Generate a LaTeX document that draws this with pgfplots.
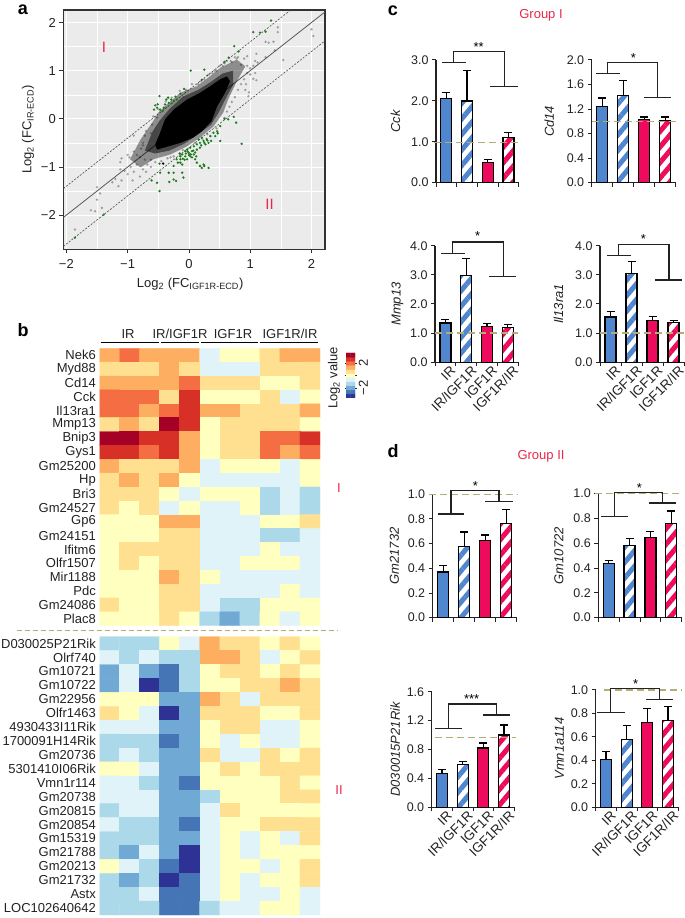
\documentclass[border=0pt]{standalone}
\usepackage{fontspec}
\setmainfont{Liberation Sans}
\usepackage{pgfplots}
\pgfplotsset{compat=1.18}
\usetikzlibrary{patterns.meta}

\definecolor{irblue}{HTML}{4F86CE}
\definecolor{igfred}{HTML}{EE0A5C}
\definecolor{tan}{HTML}{B5AD78}
\definecolor{grpred}{HTML}{E8274B}
\definecolor{dgreen}{HTML}{1C7A1C}
\definecolor{ink}{HTML}{222222}

\newcommand\fs[1]{\fontsize{#1}{#1}\selectfont}

\pgfplotsset{
  colormap={hm}{rgb255=(45,50,148) rgb255=(69,117,180) rgb255=(112,170,212) rgb255=(171,217,233)
    rgb255=(224,243,248) rgb255=(255,255,191) rgb255=(254,224,144) rgb255=(253,174,97)
    rgb255=(244,109,67) rgb255=(215,48,39) rgb255=(165,0,38)},
  % placed by left and bottom, counted in reference pixels from the top left
  pos/.style n args={2}{at={(#1pt,{(918-#2)*1pt})}, anchor=south west, scale only axis},
  % #1 left, #2 bottom, #3 width, #4 height
  barax/.style n args={4}{
    pos={#1}{#2}, width=#3pt, height=#4pt,
    clip=false, xmin=-0.5, xmax=3.5, ymin=0,
    axis x line*=bottom, axis y line*=left,
    axis line style={-,line width=1.2pt,ink},
    tick align=outside, major tick length=4pt, minor tick length=4pt,
    tick style={line width=1pt,ink},
    xtick={0,1,2,3}, minor xtick={-0.5,0.5,1.5,2.5,3.5},
    major x tick style={draw=none},
    xticklabels={},
    tick label style={font=\fs{12.5},text=ink},
    ylabel style={font=\fs{13}\itshape,text=ink},
    yticklabel style={/pgf/number format/fixed,/pgf/number format/fixed zerofill,
      /pgf/number format/precision=1,/pgf/number format/assume math mode=true},
  },
  named/.style={
    xticklabels={IR,IR/IGF1R,IGF1R,IGF1R/IR},
    xticklabel style={font=\fs{13.5},rotate=45,anchor=north east,xshift=5pt,yshift=-1pt,inner sep=1pt},
  },
  hmax/.style={
    enlargelimits=false,
    xmin=-0.5, xmax=10.5, ymin=-0.5, ymax=19.5, y dir=reverse,
    axis line style={draw=none}, tick style={draw=none}, xtick=\empty, ytick={0,...,19},
    yticklabel style={font=\fs{13},text=ink,inner sep=3.5pt},
    colormap name=hm, point meta min=0, point meta max=10,
  },
  hmplot/.style={matrix plot*, mesh/cols=11, point meta=explicit},
  barbase/.style={ybar, bar width=11pt, bar shift=0pt, draw=black, line width=1.3pt,
    error bars/y dir=plus, error bars/y explicit,
    error bars/error bar style={black,line width=1.2pt,solid},
    error bars/error mark options={rotate=90,mark size=4pt,line width=1.2pt,black,solid}},
  dotty/.style={only marks,mark=*,mark size=1.3pt,mark options={draw opacity=0,fill=#1}},
  grayish/.style={only marks,mark=*,mark size=1.3pt,mark options={draw opacity=0,fill=black,fill opacity=.33}},
}

\newcommand\bars[8]{
  \addplot[barbase,fill=irblue] coordinates {(0,#1) +- (0,#2)};
  \addplot[barbase,pattern={Lines[angle=50,distance=10pt,line width=5pt]},pattern color=irblue] coordinates {(1,#3) +- (0,#4)};
  \addplot[barbase,fill=igfred] coordinates {(2,#5) +- (0,#6)};
  \addplot[barbase,pattern={Lines[angle=50,distance=10pt,line width=5pt]},pattern color=igfred] coordinates {(3,#7) +- (0,#8)};
}
% reference dashed line at y=#1 from x=#2 to x=#3
\newcommand\refline[3]{\addplot[tan,line width=1.3pt,dash pattern=on 7pt off 4pt] coordinates {(#2,#1) (#3,#1)};}
% bracket: top y, left x, right x, left bar x0 x1, left bar y, right bar x0 x1, right bar y
\newcommand\bracket[9]{
  \draw[ink,line width=1.1pt] (#4,#6) -- (#5,#6) (#2,#6) -- (#2,#1) -- (#3,#1) -- (#3,#9);
  \draw[ink,line width=1.1pt] (#7,#9) -- (#8,#9);
}

\begin{document}
\begin{tikzpicture}
\useasboundingbox (0,0) rectangle (685pt,918pt);

% ---- a
\begin{axis}[
  pos={63.3}{249.3}, width=261.7pt, height=239.3pt,
  xmin=-2.05, xmax=2.22, ymin=-2.71, ymax=2.26, clip=true,
  axis background/.style={fill=black!8},
  axis line style={line width=1.1pt,black!80},
  xtick={-2,-1,0,1,2}, ytick={-2,-1,0,1,2},
  xticklabels={−2,−1,0,1,2}, yticklabels={−2,−1,0,1,2},
  tick label style={font=\fs{13},text=ink},
  xticklabel style={yshift=-3pt},
  tick align=outside, major tick length=4pt, tick style={line width=.8pt,black!80},
  xtick pos=lower, ytick pos=left,
  minor tick num=1, minor tick length=0pt,
  grid=both, major grid style={white,line width=.7pt}, minor grid style={white,line width=.35pt},
  xlabel={Log\textsubscript{2} (FC\textsubscript{IGF1R-ECD})},
  ylabel={Log\textsubscript{2} (FC\textsubscript{IR-ECD})},
  label style={font=\fs{13},text=ink},
  xlabel style={xshift=-4pt,yshift=-2pt},
]
% lines
\addplot[black!65,line width=.8pt] coordinates {(-2.05,-2.05)(2.22,2.22)};
\addplot[black!70,line width=.6pt,dash pattern=on 2pt off 1.5pt] coordinates {(-2.05,-1.45)(1.66,2.26)};
\addplot[black!70,line width=.6pt,dash pattern=on 2pt off 1.5pt] coordinates {(-2.05,-2.65)(2.22,1.62)};
% fringe of the cloud
\addplot[draw=none,fill=black,fill opacity=.4] coordinates {
 (-.96,-.84)(-.79,-.43)(-.60,-.08)(-.50,.13)(-.36,.30)(-.14,.54)(.13,.68)(.32,.86)(.51,1.06)(.78,1.23)
 (.92,1.09)(.78,.78)(.64,.40)(.56,.13)(.40,-.16)(.18,-.39)(-.03,-.57)(-.30,-.74)(-.58,-.84)(-.79,-1.01)} --cycle;
\addplot[draw=none,fill=black,fill opacity=.5] coordinates {
 (-.72,-.66)(-.60,-.28)(-.48,-.04)(-.32,.20)(-.10,.46)(.15,.60)(.35,.76)(.55,.94)(.72,1.0)(.72,.70)
 (.60,.42)(.48,.12)(.36,-.12)(.15,-.32)(-.08,-.52)(-.32,-.66)(-.55,-.72)} --cycle;
% dense core
\addplot[draw=none,fill=black] coordinates {
 (-.55,-.53)(-.47,-.29)(-.39,-.01)(-.25,.19)(-.03,.40)(.18,.54)(.35,.68)(.51,.82)(.62,.88)(.67,.78)
 (.59,.54)(.46,.26)(.37,-.05)(.21,-.26)(.07,-.39)(-.14,-.50)(-.36,-.58)(-.52,-.64)} --cycle;
% gray points
\addplot[grayish] coordinates {
 (2.0,1.86)(2.03,1.72)(1.54,1.22)(1.45,1.9)(1.45,1.8)(1.25,1.6)(1.3,1.58)(1.38,1.6)(1.4,1.42)
 (1.25,1.28)(1.1,1.35)(1.08,1.2)(.95,1.3)(1.0,1.05)(.9,1.25)(.85,1.12)(.95,1.1)(1.05,1.1)(1.12,1.17)
 (.78,1.25)(1.08,.95)(1.0,.92)(1.1,.8)(1.05,.83)(.93,.72)(.92,.6)(.98,.55)(.97,.47)
 (-1.86,-2.3)(-1.5,-1.42)(-1.45,-1.55)(-1.5,-1.68)(-1.6,-1.9)(-1.53,-1.92)(-1.42,-1.85)(-1.25,-1.32)
 (-1.2,-1.25)(-1.15,-1.4)(-1.1,-1.28)(-1.0,-1.15)(-1.05,-1.08)(-1.12,-1.05)(-.9,-1.1)(-.85,-.95)
 (-.95,-1.0)(-.75,-1.05)(-.8,-1.2)(-.7,-1.1)(-.68,-.95)(-.62,-.85)(-.72,-.85)(-.62,-1.0)(-1.1,-.82)
 (-1.12,-.9)(-1.0,-.75)(-.9,-.68)(-.97,-.8)(-.85,-.75)(-.78,-.62)(-.8,-.8)(-.92,-1.28)(-.75,-.55)
 (-.9,-.35)(-.72,-.35)(-.6,-.12)(-.62,-.3)(-.52,.02)(.05,.72)(.2,.78)(.3,.9)(.38,.95)(.45,1.0)(.55,1.1)
 (.7,1.18)(.8,1.28)(.62,1.2)(.58,.02)(.62,.15)(.66,.25)(.7,.35)(.75,.45)(.8,.6)(.85,.72)(.9,.82)(.95,.95)
 (.45,-.2)(.3,-.32)(.22,-.42)(.1,-.5)(-.1,-.65)(-.3,-.8)(-.45,-.88)(-.55,-.9)
 (-.35,-.82)(-.25,-.78)(-.75,-.5)(-.7,-.25)(-.58,.05)(-.5,.2)(-.38,.36)(-.28,.44)(-.15,.58)(-.05,.6)
 (.15,.72)(.25,.82)(.33,.92)(.42,1.0)(.5,1.1)(.58,1.15)(.68,1.2)(.75,1.28)};
% green points
\addplot[dotty=dgreen] coordinates {
 (1.34,2.04)(1.05,1.80)(1.16,1.79)(1.25,1.81)(.74,1.51)(.81,1.40)(.65,1.27)(.58,1.18)(.03,1.0)(.25,1.02)(.21,.81)
 (-.08,.62)(-.14,.52)(-.22,.46)(-.48,.47)(-.34,.44)(-.29,.40)(-.2,.4)(-.25,.37)(-.33,.33)(-.39,.30)(-.55,.28)
 (-.52,.23)(-.47,.19)(-.41,.23)(-.57,.19)(-.51,.30)(-.43,.16)(-.37,.40)(-.28,.32)
 (.86,-.52)(.77,-.08)(.73,.04)(.58,0)(.64,-.01)(.51,-.15)(.47,-.30)(.51,-.46)(.36,-.46)(.40,-.29)(.35,-.36)
 (.29,-.42)(.24,-.46)(.18,-.50)(.13,-.53)(.08,-.57)(.02,-.60)(-.03,-.64)(.05,-.67)(0,-.71)(-.11,-.74)(-.06,-.78)
 (-.14,-.78)(.13,-.64)(.18,-.6)(.27,-.53)(.32,-.5)(.08,-.74)(.1,-.84)(.13,-.91)(.24,-.95)(.21,-1.02)(.25,-.98)
 (.32,-1.02)(-.18,-.91)(-.14,-.91)(-.2,-.84)(-.11,-.95)(-.25,-.98)(-.33,-1.12)(-.25,-1.12)(-.47,-1.12)(-.48,-.93)
 (-.61,-1.28)(-.52,-1.33)(-.48,-1.5)(-.32,-1.31)(-.21,-1.29)(-.25,-1.26)(-.11,-1.12)(-.09,-1.22)(-1.39,-1.99)(-1.86,-2.47)
 (-.06,-.67)(-.1,-.83)(.02,-.78)(-.03,-.84)(-.14,-.84)(.16,-.43)(.21,-.39)(.46,-.26)(.43,-.36)(.18,-.98)
 (0,-.75)(.05,-.8)(-.02,-.68)(.1,-.7)(.03,-.74)(-.05,-.72)(.12,-.78)(.07,-.66)(.2,-.55)(.25,-.5)(.3,-.45)(-.07,-.85)(-.15,-.72)};
\addplot[dotty=black] coordinates {(-.42,-.93)};
\end{axis}

% ---- b
\begin{axis}[hmax, pos={99.5}{625.7}, width=220.5pt, height=277.4pt,
  yticklabels={Nek6,Myd88,Cd14,Cck,Il13ra1,Mmp13,Bnip3,Gys1,Gm25200,Hp,Bri3,Gm24527,Gp6,Gm24151,Ifitm6,Olfr1507,Mir1188,Pdc,Gm24086,Plac8}]
\addplot[hmplot] coordinates {
(0,0)[7](1,0)[8](2,0)[7](3,0)[7](4,0)[7](5,0)[4](6,0)[5](7,0)[5](8,0)[6](9,0)[7](10,0)[7]
(0,1)[6](1,1)[6](2,1)[6](3,1)[7](4,1)[6](5,1)[4](6,1)[4](7,1)[4](8,1)[6](9,1)[6](10,1)[6]
(0,2)[7](1,2)[7](2,2)[7](3,2)[7](4,2)[8](5,2)[6](6,2)[6](7,2)[6](8,2)[5](9,2)[5](10,2)[6]
(0,3)[8](1,3)[8](2,3)[8](3,3)[6](4,3)[9](5,3)[5](6,3)[5](7,3)[5](8,3)[6](9,3)[4](10,3)[5]
(0,4)[8](1,4)[8](2,4)[7](3,4)[8](4,4)[9](5,4)[7](6,4)[7](7,4)[6](8,4)[6](9,4)[6](10,4)[7]
(0,5)[6](1,5)[7](2,5)[6](3,5)[10](4,5)[9](5,5)[5](6,5)[6](7,5)[6](8,5)[6](9,5)[6](10,5)[5]
(0,6)[10](1,6)[10](2,6)[9](3,6)[9](4,6)[7](5,6)[5](6,6)[6](7,6)[6](8,6)[8](9,6)[8](10,6)[9]
(0,7)[9](1,7)[9](2,7)[8](3,7)[9](4,7)[7](5,7)[5](6,7)[6](7,7)[6](8,7)[8](9,7)[7](10,7)[8]
(0,8)[7](1,8)[6](2,8)[6](3,8)[6](4,8)[7](5,8)[4](6,8)[5](7,8)[5](8,8)[5](9,8)[4](10,8)[5]
(0,9)[6](1,9)[7](2,9)[6](3,9)[7](4,9)[5](5,9)[4](6,9)[4](7,9)[4](8,9)[4](9,9)[4](10,9)[5]
(0,10)[6](1,10)[6](2,10)[6](3,10)[5](4,10)[4](5,10)[5](6,10)[5](7,10)[5](8,10)[3](9,10)[4](10,10)[3]
(0,11)[6](1,11)[5](2,11)[6](3,11)[4](4,11)[5](5,11)[4](6,11)[4](7,11)[5](8,11)[3](9,11)[4](10,11)[3]
(0,12)[5](1,12)[5](2,12)[5](3,12)[7](4,12)[7](5,12)[4](6,12)[4](7,12)[4](8,12)[5](9,12)[5](10,12)[6]
(0,13)[5](1,13)[5](2,13)[5](3,13)[6](4,13)[6](5,13)[4](6,13)[4](7,13)[4](8,13)[3](9,13)[3](10,13)[4]
(0,14)[5](1,14)[6](2,14)[6](3,14)[6](4,14)[6](5,14)[4](6,14)[4](7,14)[4](8,14)[5](9,14)[4](10,14)[4]
(0,15)[5](1,15)[6](2,15)[5](3,15)[6](4,15)[6](5,15)[4](6,15)[4](7,15)[5](8,15)[5](9,15)[5](10,15)[4]
(0,16)[5](1,16)[5](2,16)[5](3,16)[7](4,16)[6](5,16)[5](6,16)[4](7,16)[4](8,16)[4](9,16)[4](10,16)[4]
(0,17)[5](1,17)[5](2,17)[5](3,17)[6](4,17)[6](5,17)[4](6,17)[4](7,17)[4](8,17)[4](9,17)[5](10,17)[4]
(0,18)[6](1,18)[5](2,18)[5](3,18)[6](4,18)[6](5,18)[4](6,18)[3](7,18)[3](8,18)[5](9,18)[5](10,18)[5]
(0,19)[5](1,19)[5](2,19)[5](3,19)[6](4,19)[5](5,19)[3](6,19)[2](7,19)[3](8,19)[5](9,19)[4](10,19)[5]
};
\end{axis}
\begin{axis}[hmax, pos={99.5}{915}, width=220.5pt, height=278.3pt,
  yticklabels={D030025P21Rik,Olrf740,Gm10721,Gm10722,Gm22956,Olfr1463,4930433I11Rik,1700091H14Rik,Gm20736,5301410I06Rik,Vmn1r114,Gm20738,Gm20815,Gm20854,Gm15319,Gm21788,Gm20213,Gm21732,Astx,LOC102640642}]
\addplot[hmplot] coordinates {
(0,0)[3](1,0)[3](2,0)[3](3,0)[5](4,0)[4](5,0)[7](6,0)[6](7,0)[6](8,0)[5](9,0)[6](10,0)[5]
(0,1)[4](1,1)[3](2,1)[4](3,1)[3](4,1)[3](5,1)[7](6,1)[7](7,1)[6](8,1)[4](9,1)[5](10,1)[6]
(0,2)[2](1,2)[4](2,2)[2](3,2)[1](4,2)[3](5,2)[5](6,2)[6](7,2)[6](8,2)[5](9,2)[6](10,2)[5]
(0,3)[2](1,3)[4](2,3)[0](3,3)[1](4,3)[3](5,3)[5](6,3)[5](7,3)[6](8,3)[6](9,3)[7](10,3)[6]
(0,4)[5](1,4)[5](2,4)[5](3,4)[2](4,4)[2](5,4)[7](6,4)[6](7,4)[4](8,4)[6](9,4)[6](10,4)[6]
(0,5)[6](1,5)[5](2,5)[4](3,5)[0](4,5)[2](5,5)[6](6,5)[6](7,5)[6](8,5)[5](9,5)[5](10,5)[6]
(0,6)[4](1,6)[4](2,6)[4](3,6)[2](4,6)[2](5,6)[5](6,6)[6](7,6)[6](8,6)[4](9,6)[4](10,6)[5]
(0,7)[3](1,7)[3](2,7)[3](3,7)[1](4,7)[2](5,7)[5](6,7)[4](7,7)[5](8,7)[4](9,7)[4](10,7)[5]
(0,8)[3](1,8)[4](2,8)[3](3,8)[2](4,8)[2](5,8)[6](6,8)[4](7,8)[4](8,8)[6](9,8)[5](10,8)[6]
(0,9)[5](1,9)[5](2,9)[4](3,9)[2](4,9)[2](5,9)[5](6,9)[6](7,9)[5](8,9)[6](9,9)[6](10,9)[6]
(0,10)[4](1,10)[4](2,10)[3](3,10)[2](4,10)[1](5,10)[5](6,10)[5](7,10)[5](8,10)[5](9,10)[6](10,10)[5]
(0,11)[4](1,11)[4](2,11)[4](3,11)[2](4,11)[2](5,11)[3](6,11)[5](7,11)[5](8,11)[5](9,11)[6](10,11)[6]
(0,12)[3](1,12)[4](2,12)[4](3,12)[2](4,12)[2](5,12)[4](6,12)[6](7,12)[5](8,12)[5](9,12)[5](10,12)[5]
(0,13)[4](1,13)[3](2,13)[3](3,13)[2](4,13)[1](5,13)[4](6,13)[5](7,13)[5](8,13)[6](9,13)[6](10,13)[6]
(0,14)[3](1,14)[3](2,14)[3](3,14)[2](4,14)[2](5,14)[4](6,14)[5](7,14)[4](8,14)[5](9,14)[4](10,14)[6]
(0,15)[3](1,15)[2](2,15)[4](3,15)[2](4,15)[0](5,15)[4](6,15)[5](7,15)[4](8,15)[5](9,15)[5](10,15)[5]
(0,16)[5](1,16)[4](2,16)[3](3,16)[1](4,16)[0](5,16)[4](6,16)[5](7,16)[5](8,16)[4](9,16)[5](10,16)[6]
(0,17)[3](1,17)[2](2,17)[3](3,17)[0](4,17)[1](5,17)[4](6,17)[5](7,17)[4](8,17)[5](9,17)[5](10,17)[6]
(0,18)[3](1,18)[3](2,18)[4](3,18)[1](4,18)[1](5,18)[4](6,18)[5](7,18)[4](8,18)[4](9,18)[5](10,18)[4]
(0,19)[3](1,19)[3](2,19)[3](3,19)[1](4,19)[1](5,19)[3](6,19)[4](7,19)[4](8,19)[5](9,19)[5](10,19)[4]
};
\end{axis}
% colour scale
\begin{axis}[pos={346}{398}, width=9pt, height=45pt,
  enlargelimits=false, xmin=-0.5, xmax=1.5, ymin=-0.5, ymax=10.5,
  axis line style={draw=none}, xtick=\empty, ytick={2,5,8}, yticklabels={−2,,2},
  yticklabel pos=right, tick style={draw=ink,line width=.5pt}, tick align=outside, major tick length=1.5pt,
  yticklabel style={rotate=90,anchor=north,font=\fs{13},text=ink,inner sep=2pt},
  colormap name=hm, point meta min=0, point meta max=10]
\addplot[matrix plot*, mesh/cols=2, point meta=explicit] coordinates {
 (0,0)[0](1,0)[0](0,1)[1](1,1)[1](0,2)[2](1,2)[2](0,3)[3](1,3)[3](0,4)[4](1,4)[4](0,5)[5](1,5)[5]
 (0,6)[6](1,6)[6](0,7)[7](1,7)[7](0,8)[8](1,8)[8](0,9)[9](1,9)[9](0,10)[10](1,10)[10]};
\end{axis}

% ---- c
\begin{axis}[barax={436}{182.7}{82.7}{122.7}, ymax=3, ytick={0,1,2,3}, ylabel={Cck}, ylabel shift=4pt]
\bars{2.05}{0.15}{2.0}{0.75}{0.5}{0.07}{1.1}{0.13}
\refline{0.98}{-0.6}{3.5}
\end{axis}
\begin{axis}[barax={591.7}{182.7}{84}{122.7}, ymax=2, ytick={0,0.4,0.8,1.2,1.6,2}, ylabel={Cd14}, ylabel shift=6pt]
\bars{1.24}{0.14}{1.42}{0.24}{1.03}{0.04}{1.01}{0.06}
\refline{1}{-0.5}{3.5}
\end{axis}
\begin{axis}[barax={435}{362.3}{83.3}{116.6}, named, ymax=4, ytick={0,1,2,3,4}, ylabel={Mmp13}]
\bars{1.35}{0.12}{2.97}{0.58}{1.23}{0.09}{1.2}{0.1}
\refline{1}{-0.5}{3.5}
\end{axis}
\begin{axis}[barax={600}{362.3}{84}{116.6}, named, ymax=4, ytick={0,1,2,3,4}, ylabel={Il13ra1}, ylabel shift=5pt]
\bars{1.55}{0.18}{3.05}{0.42}{1.43}{0.15}{1.37}{0.06}
\refline{1}{-0.5}{3.5}
\end{axis}

% ---- d
\begin{axis}[barax={432.7}{617.7}{84}{123.4}, ymax=1, ytick={0,0.2,0.4,0.6,0.8,1}, ylabel={Gm21732}, ylabel shift=2pt]
\bars{0.37}{0.05}{0.575}{0.12}{0.625}{0.045}{0.765}{0.11}
\refline{1}{-0.7}{3.5}
\end{axis}
\begin{axis}[barax={598.3}{617.7}{83.4}{124}, ymax=1, ytick={0,0.2,0.4,0.6,0.8,1}, ylabel={Gm10722}, ylabel shift=3pt]
\bars{0.435}{0.025}{0.585}{0.055}{0.645}{0.05}{0.76}{0.1}
\refline{1}{-0.65}{3.5}
\end{axis}
\begin{axis}[barax={431.7}{807.3}{82.6}{115.6}, named, ymax=1.6, ytick={0,0.4,0.8,1.2,1.6}, ylabel={D030015P21Rik}]
\bars{0.47}{0.05}{0.59}{0.045}{0.82}{0.07}{1.0}{0.14}
\refline{0.964}{-0.35}{3.6}
\end{axis}
\begin{axis}[barax={595.7}{807.3}{82.6}{117.3}, named, ymax=1, ytick={0,0.2,0.4,0.6,0.8,1}, ylabel={Vmn1a114}]
\bars{0.41}{0.065}{0.58}{0.12}{0.72}{0.12}{0.74}{0.12}
\refline{1}{-0.1}{3.65}
\end{axis}

% annotations in reference pixels, counted from the top left
\begin{scope}[x=1pt,y=-1pt,shift={(0pt,918pt)}]
\node[font=\fs{15},text=grpred] at (104,47) {I};
\node[font=\fs{15},text=grpred] at (269.5,204.5) {II};
\node[rotate=90,font=\fs{13},text=ink] at (334,378) {Log\textsubscript{2} value};
\foreach \xa/\xb in {100.7/159,161.3/199.3,201/258.3,260.3/318.3}
  \draw[black,line width=1.6pt] (\xa,342.7) -- (\xb,342.7);
\node[font=\fs{13},text=ink] at (128,334) {IR};
\node[font=\fs{13},text=ink] at (180,334) {IR/IGF1R};
\node[font=\fs{13},text=ink] at (233,334) {IGF1R};
\node[font=\fs{13},text=ink] at (290,334) {IGF1R/IR};
\draw[tan,line width=1pt,dash pattern=on 5pt off 3pt] (17,630.7) -- (338,630.7);
\node[font=\fs{13},text=grpred] at (339,488) {I};
\node[font=\fs{13},text=grpred] at (339,790) {II};
\node[font=\fs{13},text=grpred] at (541,15) {Group I};
\bracket{51.7}{453.3}{504.3}{442}{466}{62.7}{490}{517.7}{86.7}
\node[font=\fs{13}] at (478.7,47) {**};
\bracket{62.3}{607.3}{657.7}{596}{620}{73.7}{644}{671.3}{97.7}
\node[font=\fs{13}] at (633.3,58) {*};
\bracket{242}{452.3}{503.3}{441}{465}{253.3}{489}{516}{276.7}
\node[font=\fs{13}] at (477.7,236) {*};
\bracket{244.7}{618.3}{669}{607}{631}{255.7}{655}{682.3}{280}
\node[font=\fs{13}] at (643.3,239) {*};
\node[font=\fs{13},text=grpred] at (541,456) {Group II};
\bracket{490.7}{451}{499}{437.7}{464.3}{514}{485.3}{512.7}{501.3}
\node[font=\fs{13}] at (475.3,486) {*};
\bracket{492.3}{614.3}{662.3}{601}{628.3}{516.3}{649.3}{676}{503}
\node[font=\fs{13}] at (639.3,488) {*};
\bracket{704}{448.3}{496.7}{435}{461.7}{728.7}{483}{510}{715}
\node[font=\fs{13}] at (471.7,699) {***};
\bracket{688.3}{610.7}{659.3}{597.3}{624.7}{712.7}{646}{673}{699.3}
\node[font=\fs{13}] at (635.7,684) {*};
\node[font=\fs{18}\bfseries] at (23,10) {a};
\node[font=\fs{18}\bfseries] at (23,330) {b};
\node[font=\fs{18}\bfseries] at (393,11) {c};
\node[font=\fs{18}\bfseries] at (393,451) {d};
\end{scope}
\end{tikzpicture}
\end{document}
